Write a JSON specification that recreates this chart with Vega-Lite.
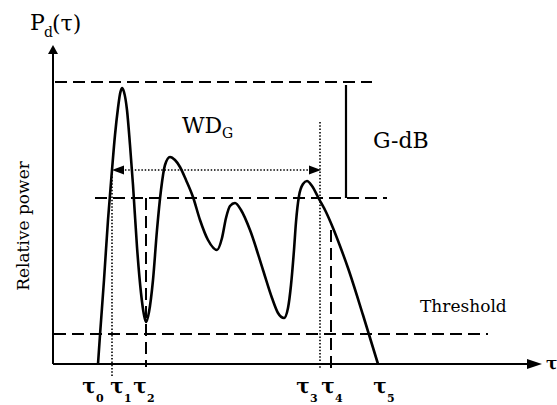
{
  "$schema": "https://vega.github.io/schema/vega-lite/v6.json",
  "width": 557,
  "height": 405,
  "autosize": {"type": "none"},
  "padding": 0,
  "background": "white",
  "config": {"view": {"stroke": null}, "font": "DejaVu Serif"},
  "datasets": {
    "curve": [
      {"tau": 45, "power": 0}, {"tau": 47, "power": 29}, {"tau": 51, "power": 84}, {"tau": 55, "power": 144},
      {"tau": 59, "power": 194}, {"tau": 62, "power": 229}, {"tau": 65, "power": 256}, {"tau": 67, "power": 270},
      {"tau": 69, "power": 276}, {"tau": 71, "power": 272}, {"tau": 74, "power": 254}, {"tau": 77, "power": 219},
      {"tau": 80, "power": 179}, {"tau": 84, "power": 117}, {"tau": 88, "power": 71}, {"tau": 91, "power": 49},
      {"tau": 93, "power": 42}, {"tau": 96, "power": 52}, {"tau": 100, "power": 84}, {"tau": 104, "power": 134},
      {"tau": 108, "power": 174}, {"tau": 112, "power": 199}, {"tau": 117, "power": 207}, {"tau": 122, "power": 204},
      {"tau": 127, "power": 197}, {"tau": 133, "power": 184}, {"tau": 140, "power": 167}, {"tau": 147, "power": 144},
      {"tau": 155, "power": 124}, {"tau": 164, "power": 114}, {"tau": 169, "power": 126}, {"tau": 173, "power": 146},
      {"tau": 177, "power": 158}, {"tau": 182, "power": 161}, {"tau": 188, "power": 154}, {"tau": 197, "power": 134},
      {"tau": 210, "power": 94}, {"tau": 219, "power": 66}, {"tau": 225, "power": 51}, {"tau": 231, "power": 46},
      {"tau": 235, "power": 56}, {"tau": 238, "power": 79}, {"tau": 241, "power": 114}, {"tau": 243, "power": 142},
      {"tau": 246, "power": 168}, {"tau": 250, "power": 180}, {"tau": 254, "power": 183}, {"tau": 259, "power": 178},
      {"tau": 266, "power": 165}, {"tau": 273, "power": 152}, {"tau": 280, "power": 136}, {"tau": 287, "power": 118},
      {"tau": 295, "power": 96}, {"tau": 310, "power": 49}, {"tau": 325, "power": 0}
    ],
    "axes": [
      {"tau": 0, "power": 0, "tau2": 482, "power2": 0},
      {"tau": 0, "power": 0, "tau2": 0, "power2": 314}
    ],
    "dashed": [
      {"tau": 2, "power": 282, "tau2": 319, "power2": 282},
      {"tau": 42, "power": 166, "tau2": 334, "power2": 166},
      {"tau": 1, "power": 30, "tau2": 435, "power2": 30},
      {"tau": 93, "power": 166, "tau2": 93, "power2": -3},
      {"tau": 278, "power": 134, "tau2": 278, "power2": -6}
    ],
    "dotted": [
      {"tau": 62, "power": 194, "tau2": 265, "power2": 194},
      {"tau": 59, "power": 194, "tau2": 59, "power2": -13},
      {"tau": 267, "power": 242, "tau2": 267, "power2": -5}
    ],
    "solid": [
      {"tau": 293, "power": 279, "tau2": 293, "power2": 166}
    ],
    "arrows": [
      {"tau": 0, "power": 319, "dir": "up"},
      {"tau": 489, "power": 0, "dir": "axisright"},
      {"tau": 59, "power": 194, "dir": "left"},
      {"tau": 268, "power": 194, "dir": "right"}
    ],
    "ticks": [
      {"tau": 36, "power": -29, "label": "τ", "sub": "0"},
      {"tau": 64, "power": -29, "label": "τ", "sub": "1"},
      {"tau": 87, "power": -29, "label": "τ", "sub": "2"},
      {"tau": 250, "power": -29, "label": "τ", "sub": "3"},
      {"tau": 275, "power": -29, "label": "τ", "sub": "4"},
      {"tau": 327, "power": -29, "label": "τ", "sub": "5"}
    ],
    "bigText": [
      {"tau": -23, "power": 334, "text": "P"},
      {"tau": -1, "power": 333, "text": "(τ)"},
      {"tau": 129, "power": 231, "text": "WD"},
      {"tau": 320, "power": 216, "text": "G-dB"}
    ],
    "subText": [
      {"tau": -9, "power": 327, "text": "d"},
      {"tau": 169, "power": 226, "text": "G"}
    ],
    "threshold": [{"tau": 367, "power": 52, "text": "Threshold"}],
    "ylabel": [{"tau": -24, "power": 138, "text": "Relative power"}],
    "xlabel": [{"tau": 493, "power": -5, "text": "τ"}]
  },
  "encoding": {
    "x": {"field": "tau", "type": "quantitative", "scale": {"domain": [-53, 504], "nice": false, "zero": false}, "axis": null},
    "y": {"field": "power", "type": "quantitative", "scale": {"domain": [-41, 364], "nice": false, "zero": false}, "axis": null}
  },
  "layer": [
    {
      "data": {"name": "axes"},
      "mark": {"type": "rule", "strokeWidth": 2, "color": "black"},
      "encoding": {"x2": {"field": "tau2"}, "y2": {"field": "power2"}}
    },
    {
      "data": {"name": "dashed"},
      "mark": {"type": "rule", "strokeWidth": 2, "color": "black", "strokeDash": [12, 6]},
      "encoding": {"x2": {"field": "tau2"}, "y2": {"field": "power2"}}
    },
    {
      "data": {"name": "dotted"},
      "mark": {"type": "rule", "strokeWidth": 1.6, "color": "black", "strokeDash": [1.5, 1.8]},
      "encoding": {"x2": {"field": "tau2"}, "y2": {"field": "power2"}}
    },
    {
      "data": {"name": "solid"},
      "mark": {"type": "rule", "strokeWidth": 2.2, "color": "black"},
      "encoding": {"x2": {"field": "tau2"}, "y2": {"field": "power2"}}
    },
    {
      "data": {"name": "curve"},
      "mark": {"type": "line", "interpolate": "monotone", "strokeWidth": 2.6, "color": "black"},
      "encoding": {}
    },
    {
      "data": {"name": "arrows"},
      "mark": {"type": "point", "filled": true, "color": "black", "opacity": 1, "size": 100},
      "encoding": {
        "shape": {
          "field": "dir", "type": "nominal", "legend": null,
          "scale": {
            "domain": ["up", "axisright", "left", "right"],
            "range": ["M0,0L-1,1.8L1,1.8Z", "M0,0L-3,-1L-3,1Z", "M0,0L2.4,-0.9L2.4,0.9Z", "M0,0L-2.4,-0.9L-2.4,0.9Z"]
          }
        }
      }
    },
    {
      "data": {"name": "bigText"},
      "mark": {"type": "text", "font": "DejaVu Serif", "color": "black", "fontSize": 22, "align": "left", "baseline": "alphabetic"},
      "encoding": {"text": {"field": "text"}}
    },
    {
      "data": {"name": "subText"},
      "mark": {"type": "text", "font": "DejaVu Serif", "color": "black", "fontSize": 14, "align": "left", "baseline": "alphabetic"},
      "encoding": {"text": {"field": "text"}}
    },
    {
      "data": {"name": "threshold"},
      "mark": {"type": "text", "font": "DejaVu Serif", "color": "black", "fontSize": 17, "align": "left", "baseline": "alphabetic"},
      "encoding": {"text": {"field": "text"}}
    },
    {
      "data": {"name": "ylabel"},
      "mark": {"type": "text", "font": "DejaVu Serif", "color": "black", "fontSize": 17, "align": "center", "baseline": "alphabetic", "angle": 270},
      "encoding": {"text": {"field": "text"}}
    },
    {
      "data": {"name": "ticks"},
      "mark": {"type": "text", "font": "DejaVu Serif", "color": "black", "fontSize": 20, "fontWeight": "bold", "align": "center", "baseline": "alphabetic"},
      "encoding": {"text": {"field": "label"}}
    },
    {
      "data": {"name": "ticks"},
      "mark": {"type": "text", "font": "DejaVu Serif", "color": "black", "fontSize": 11, "fontWeight": "bold", "align": "left", "baseline": "alphabetic", "dx": 7, "dy": 9},
      "encoding": {"text": {"field": "sub"}}
    },
    {
      "data": {"name": "xlabel"},
      "mark": {"type": "text", "font": "DejaVu Serif", "color": "black", "fontSize": 17, "fontWeight": "bold", "align": "left", "baseline": "alphabetic"},
      "encoding": {"text": {"field": "text"}}
    }
  ]
}
